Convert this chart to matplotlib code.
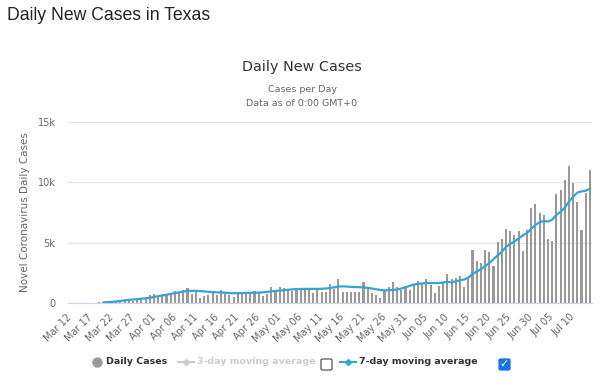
import datetime as dt
import matplotlib
matplotlib.use('Agg')
import matplotlib.pyplot as plt
from matplotlib.lines import Line2D
from matplotlib.patches import FancyBboxPatch

# daily new cases, Mar 12 .. Jul 14
daily_cases = [
    5, 10, 15, 20, 25, 30, 40, 50,
    55, 60, 80, 110, 140, 200, 300, 170, 250, 310, 360, 650,
    720, 530, 750, 760, 720, 1000, 860, 1050, 1250, 750,
    945, 380, 600, 700, 945, 670, 1080, 860, 670, 500,
    945, 860, 945, 945, 1030, 860, 580, 750, 1360, 1030,
    1360, 1220, 1080, 1030, 1220, 1180, 1100, 1180, 860, 1140,
    945, 945, 1580, 1140, 1970, 890, 945, 945, 945, 945,
    1780, 1140, 800, 670, 440, 1000, 1360, 1700, 1360, 1080,
    1450, 1080, 1580, 1860, 1650, 2000, 1500, 860, 1420, 1640,
    2390, 1970, 2110, 2200, 1310, 1970, 4360, 3500, 3310, 4420,
    4200, 3090, 5060, 5280, 6150, 5950, 5600, 6000, 4280, 6090,
    7900, 8170, 7480, 7280, 5300, 5170, 9000, 9370, 10170, 11370,
    9980, 8370, 6030, 9090, 11000,
]

# 7-day moving average, starts on Mar 20 (index 8)
avg7_start = 8
avg7 = [
    50, 70, 100, 130, 170, 220, 260, 290, 320, 360, 390, 440,
    500, 560, 620, 680, 760, 820, 880, 950, 1000, 1010,
    1010, 990, 960, 930, 900, 880, 870, 860, 820, 810,
    810, 820, 840, 850, 850, 860, 880, 920, 960, 1000,
    1030, 1060, 1100, 1130, 1150, 1160, 1170, 1170, 1170, 1170,
    1180, 1200, 1240, 1300, 1360, 1380, 1360, 1340, 1320, 1310,
    1290, 1250, 1200, 1140, 1080, 1050, 1060, 1080, 1120, 1200,
    1300, 1420, 1530, 1580, 1620, 1660, 1660, 1650, 1650, 1700,
    1750, 1720, 1800, 1880, 1950, 2100, 2400, 2600, 2800, 3050,
    3300, 3640, 3950, 4250, 4650, 4900, 5100, 5350, 5600, 5800,
    6150, 6450, 6700, 6800, 6750, 6900, 7300, 7550, 7900, 8400,
    8800, 9150, 9250, 9300, 9480,
]

start_date = dt.date(2020, 3, 12)
dates = [start_date + dt.timedelta(days=i) for i in range(len(daily_cases))]
tick_labels = [d.strftime('%b %d') for d in dates]

y_ticks = [0, 5000, 10000, 15000]
y_tick_labels = ['0', '5k', '10k', '15k']

bar_color = '#999999'
line_color = '#35a3d3'

fig = plt.figure(figsize=(6.0, 3.88), dpi=100)
ax = fig.add_axes([68 / 600, 1 - 303 / 388, 524 / 600, 181 / 388])

x = list(range(len(daily_cases)))
ax.bar(x, daily_cases, width=0.5, color=bar_color, zorder=2)
ax.plot(x[avg7_start:avg7_start + len(avg7)], avg7, color=line_color, lw=1.6, zorder=3)

ax.set_xlim(-0.5, len(daily_cases) - 0.5)
ax.set_ylim(0, 15000)
ax.set_yticks(y_ticks)
ax.set_yticklabels(y_tick_labels)
ax.set_xticks(x[::5])
ax.set_xticklabels(tick_labels[::5], rotation=45, ha='right', va='center',
                   rotation_mode='anchor')

ax.tick_params(axis='x', length=0, pad=9, labelsize=7, colors='#666666')
ax.tick_params(axis='y', length=0, pad=9, labelsize=7, colors='#666666')
ax.grid(axis='y', color='#e6e6e6', lw=1, zorder=0)
for s in ['top', 'right', 'left']:
    ax.spines[s].set_visible(False)
ax.spines['bottom'].set_color('#ccd6eb')
ax.set_ylabel('Novel Coronavirus Daily Cases', fontsize=7.5, color='#666666')
ax.yaxis.set_label_coords(-0.072, 0.5)

# titles
fig.text(7 / 600, 1 - 15 / 388, 'Daily New Cases in Texas', fontsize=12.7,
         family='Liberation Sans', color='#222222', va='center', ha='left')
fig.text(302 / 600, 1 - 67 / 388, 'Daily New Cases', fontsize=10.4,
         color='#333333', va='center', ha='center')
fig.text(302 / 600, 1 - 90 / 388, 'Cases per Day', fontsize=6.8,
         color='#666666', va='center', ha='center')
fig.text(302 / 600, 1 - 103 / 388, 'Data as of 0:00 GMT+0', fontsize=6.8,
         color='#666666', va='center', ha='center')

# legend with checkboxes
ly = 1 - 362 / 388
fig.add_artist(Line2D([97 / 600], [ly], marker='o', ms=6.5, color=bar_color,
                      transform=fig.transFigure))
fig.text(106 / 600, ly, 'Daily Cases', fontsize=6.8, weight='bold',
         color='#333333', va='center')
fig.add_artist(Line2D([178 / 600, 194 / 600], [ly, ly], color='#cccccc', lw=1.5,
                      transform=fig.transFigure))
fig.add_artist(Line2D([186 / 600], [ly], marker='D', ms=3, color='#cccccc',
                      transform=fig.transFigure))
fig.text(197 / 600, ly, '3-day moving average', fontsize=6.8, weight='bold',
         color='#cccccc', va='center')
fig.add_artist(Line2D([340 / 600, 356 / 600], [ly, ly], color=line_color, lw=1.5,
                      transform=fig.transFigure))
fig.add_artist(Line2D([348 / 600], [ly], marker='D', ms=3, color=line_color,
                      transform=fig.transFigure))
fig.text(359 / 600, ly, '7-day moving average', fontsize=6.8, weight='bold',
         color='#333333', va='center')

box_w, box_h = 11 / 600, 11 / 388
fig.add_artist(FancyBboxPatch((321 / 600, 1 - 370 / 388), box_w, box_h,
                              boxstyle='round,pad=0,rounding_size=0.003',
                              fc='white', ec='#555555', lw=0.9, transform=fig.transFigure))
fig.add_artist(FancyBboxPatch((499 / 600, 1 - 370 / 388), box_w, box_h,
                              boxstyle='round,pad=0,rounding_size=0.003',
                              fc='#1a73e8', ec='#1a73e8', lw=0.9, transform=fig.transFigure))
fig.text(504.5 / 600, 1 - 364.5 / 388, '\u2713', fontsize=8, color='white',
         weight='bold', ha='center', va='center')

fig.savefig('out.png', dpi=100)
